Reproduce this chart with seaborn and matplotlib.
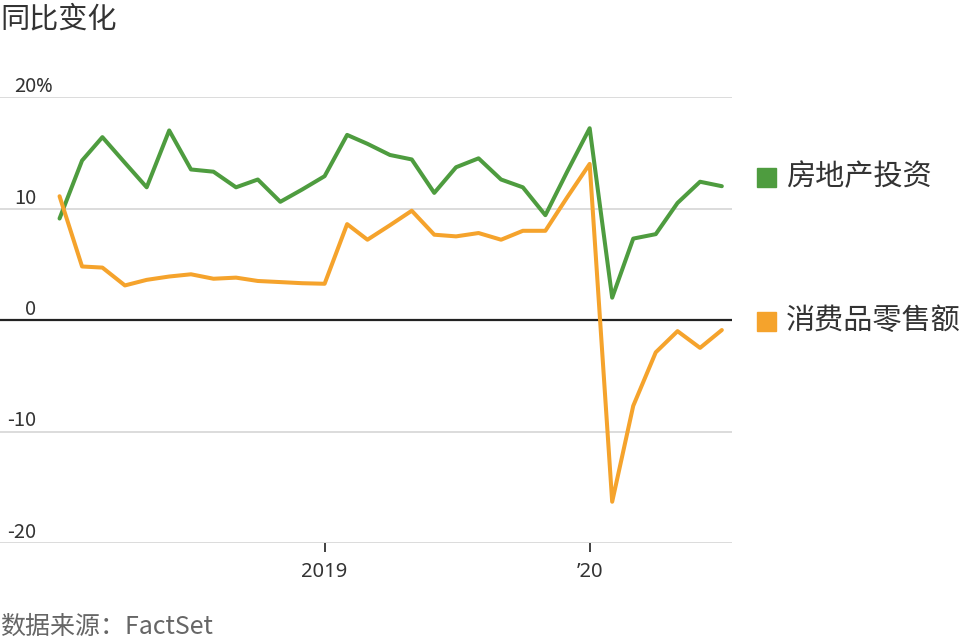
import matplotlib
matplotlib.use("Agg")
import matplotlib.pyplot as plt
import matplotlib.patches as mpatches
import seaborn as sns
import pandas as pd
import numpy as np

# ---------------- data ----------------
months = pd.date_range("2018-01-01", "2020-07-01", freq="MS")
real_estate = [9.1, 14.3, 16.4, 14.1, 11.9, 17.0, 13.5, 13.3, 11.9, 12.6, 10.6, 11.7,
               12.9, 16.6, 15.8, 14.8, 14.4, 11.4, 13.7, 14.5, 12.6, 11.9, 9.4, 13.3,
               17.2, 2.0, 7.3, 7.7, 10.5, 12.4, 12.0]
retail = [11.1, 4.8, 4.7, 3.1, 3.6, 3.9, 4.1, 3.7, 3.8, 3.5, 3.4, 3.3,
          3.25, 8.6, 7.2, 8.5, 9.8, 7.65, 7.5, 7.8, 7.2, 8.0, 8.0, 11.0,
          14.0, -16.3, -7.7, -2.9, -1.0, -2.5, -0.9]
series_names = ["房地产投资", "消费品零售额"]
series_colors = ["#4e9c3f", "#f5a32c"]
y_ticks = [-20, -10, 0, 10, 20]
y_tick_labels = ["-20", "-10", "0", "10", "20"]
x_ticks = ["2019-01-01", "2020-01-01"]
x_tick_labels = ["2019", "\u201920"]
title = "同比变化"
source = "数据来源：FactSet"

df = pd.concat([
    pd.DataFrame({"date": months, "value": real_estate, "series": series_names[0]}),
    pd.DataFrame({"date": months, "value": retail, "series": series_names[1]}),
])

# ---------------- style ----------------
sns.set_theme(style="white")
plt.rcParams["font.family"] = ["Noto Sans CJK SC", "DejaVu Sans"]
TXT = "#333333"

W, H = 968, 644
fig = plt.figure(figsize=(W / 100, H / 100), dpi=100)
ax_left, ax_right, ax_top, ax_bottom = 0, 732, 97, 543
ax = fig.add_axes([ax_left / W, 1 - ax_bottom / H,
                   (ax_right - ax_left) / W, (ax_bottom - ax_top) / H])

sns.lineplot(data=df, x="date", y="value", hue="series",
             palette=dict(zip(series_names, series_colors)),
             linewidth=2.9, legend=False, ax=ax, zorder=3)

ax.set_ylim(-20, 20)
ax.set_xlim(pd.Timestamp("2017-10-11"), pd.Timestamp("2020-07-15"))
for s in ax.spines.values():
    s.set_visible(False)

ax.set_yticks(y_ticks)
ax.set_yticklabels([])
ax.tick_params(axis="y", length=0)
ax.grid(axis="y", color="#dcdcdc", linewidth=1.4, zorder=0)
ax.grid(axis="x", visible=False)
ax.axhline(0, color="#222222", linewidth=1.6, zorder=2)

ax.set_xticks(pd.to_datetime(x_ticks))
ax.set_xticklabels(x_tick_labels, fontsize=14.5, color=TXT,
                   family=["Noto Sans", "DejaVu Sans"])
ax.tick_params(axis="x", direction="out", length=6.5, width=1.3, color=TXT, pad=7,
               bottom=True)
ax.set_xlabel("")
ax.set_ylabel("")

# y labels above grid lines, right-aligned
lab_x = 36 / (ax_right - ax_left)
trans = ax.get_yaxis_transform()
for v, lab in zip(y_ticks, y_tick_labels):
    ax.text(lab_x, v, lab, transform=trans, ha="right", va="bottom",
            fontsize=14.5, color=TXT)
    if v == max(y_ticks):
        ax.text(lab_x, v, "%", transform=trans, ha="left", va="bottom",
                fontsize=14.5, color=TXT, family=["Noto Sans", "DejaVu Sans"])

# title and source
fig.text(0.0, 1 - 19 / H, title, ha="left", va="center", fontsize=21, color=TXT)
fig.text(0.0, 1 - 627 / H, source, ha="left", va="center", fontsize=18, color="#666666")

# legend
leg_y = [177, 321]
for name, col, yy in zip(series_names, series_colors, leg_y):
    fig.add_artist(mpatches.Rectangle((757 / W, 1 - (yy + 9.5) / H), 19 / W, 19 / H,
                                      transform=fig.transFigure, color=col))
    fig.text(786 / W, 1 - yy / H, name, ha="left", va="center", fontsize=21, color=TXT)

fig.savefig("out.png", dpi=100)
